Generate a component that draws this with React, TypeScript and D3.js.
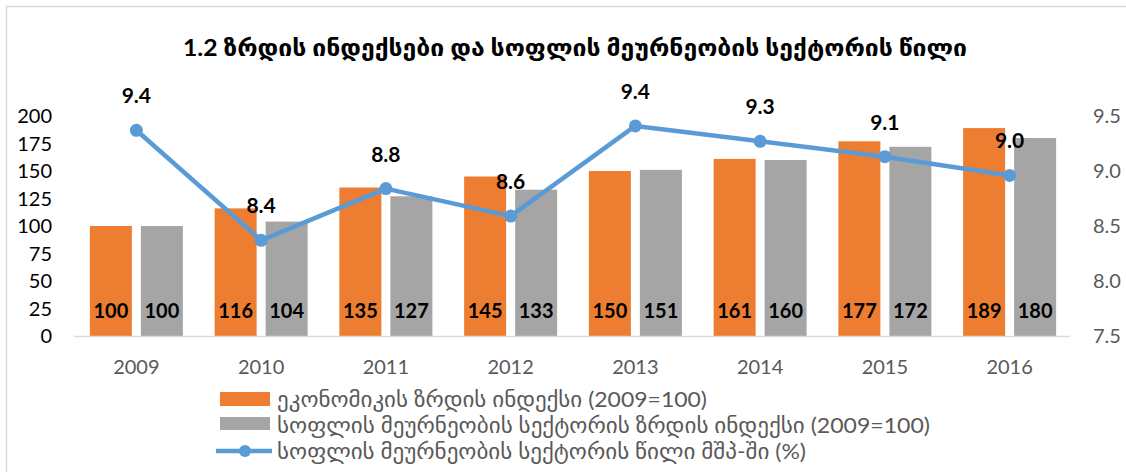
import React from "react";
import * as d3 from "d3";

const years = ["2009", "2010", "2011", "2012", "2013", "2014", "2015", "2016"];
const econIndex = [100, 116, 135, 145, 150, 161, 177, 189];
const agriIndex = [100, 104, 127, 133, 151, 160, 172, 180];
const agriShare = [9.37, 8.37, 8.84, 8.59, 9.41, 9.27, 9.13, 8.96];
const leftTicks = [0, 25, 50, 75, 100, 125, 150, 175, 200];
const rightTicks = [7.5, 8.0, 8.5, 9.0, 9.5];

const title = "1.2 ზრდის ინდექსები და სოფლის მეურნეობის სექტორის წილი";
const legendLabels = [
  "ეკონომიკის ზრდის ინდექსი (2009=100)",
  "სოფლის მეურნეობის სექტორის ზრდის ინდექსი (2009=100)",
  "სოფლის მეურნეობის სექტორის წილი მშპ-ში (%)",
];
const legendWidths = [430, 653, 529];

const W = 1126;
const H = 472;
const ORANGE = "#ED7D31";
const GREY = "#A5A5A5";
const BLUE = "#5B9BD5";
const TXT = "#595959";
const FONT = "Lato, 'DejaVu Sans', sans-serif";

export default function App() {
  const x = d3.scaleBand<string>().domain(years).range([74, 1072]).padding(0);
  const yL = d3.scaleLinear().domain([0, 200]).range([336, 116]);
  const yR = d3.scaleLinear().domain([7.5, 9.5]).range([336, 116]);
  const barW = 42;
  const gap = 9;
  const cx = (y: string) => (x(y) as number) + x.bandwidth() / 2;
  const line = d3
    .line<number>()
    .x((_, i) => cx(years[i]))
    .y((d) => yR(d));

  return (
    <svg
      width={W}
      height={H}
      style={{ position: "absolute", left: 0, top: 0, background: "#fff" }}
      fontFamily={FONT}
    >
      <rect x={6.5} y={6.5} width={W + 10} height={H + 10} fill="#fff" stroke="#D9D9D9" strokeWidth={1.5} />
      <text
        x={183}
        y={56}
        fontSize={23}
        fontWeight="bold"
        fill="#000"
        textLength={784}
        lengthAdjust="spacingAndGlyphs"
      >
        {title}
      </text>

      {leftTicks.map((t) => (
        <text key={"l" + t} x={52} y={yL(t)} dy="0.35em" textAnchor="end" fontSize={20} fill="#000">
          {t}
        </text>
      ))}
      {rightTicks.map((t) => (
        <text key={"r" + t} x={1093} y={yR(t)} dy="0.35em" textAnchor="start" fontSize={20} fill={TXT}>
          {t.toFixed(1)}
        </text>
      ))}

      {years.map((yr, i) => {
        const c = cx(yr);
        const ox = c - gap / 2 - barW;
        const gx = c + gap / 2;
        return (
          <g key={yr}>
            <rect x={ox} y={yL(econIndex[i])} width={barW} height={yL(0) - yL(econIndex[i])} fill={ORANGE} />
            <rect x={gx} y={yL(agriIndex[i])} width={barW} height={yL(0) - yL(agriIndex[i])} fill={GREY} />
            <text x={ox + barW / 2} y={318} textAnchor="middle" fontSize={20} fontWeight="bold" fill="#000">
              {econIndex[i]}
            </text>
            <text x={gx + barW / 2} y={318} textAnchor="middle" fontSize={20} fontWeight="bold" fill="#000">
              {agriIndex[i]}
            </text>
            <text x={c} y={367} dy="0.35em" textAnchor="middle" fontSize={20} fill={TXT}>
              {yr}
            </text>
          </g>
        );
      })}

      <line x1={74} x2={1070} y1={336.5} y2={336.5} stroke="#D9D9D9" strokeWidth={1.5} />

      <path d={line(agriShare) || ""} fill="none" stroke={BLUE} strokeWidth={4.5} strokeLinejoin="round" />
      {agriShare.map((v, i) => (
        <g key={"p" + i}>
          <circle cx={cx(years[i])} cy={yR(v)} r={6.5} fill={BLUE} />
          <text x={cx(years[i])} y={yR(v) - 27} textAnchor="middle" fontSize={21} fontWeight="bold" fill="#000">
            {v.toFixed(1)}
          </text>
        </g>
      ))}

      <rect x={220} y={392} width={50} height={14} fill={ORANGE} />
      <rect x={220} y={417} width={50} height={13} fill={GREY} />
      <line x1={216} x2={272} y1={451} y2={451} stroke={BLUE} strokeWidth={4.5} />
      <circle cx={245} cy={451} r={6} fill={BLUE} />
      {legendLabels.map((l, i) => (
        <text
          key={"lg" + i}
          x={277}
          y={400 + i * 26}
          dy="0.35em"
          fontSize={21}
          fill={TXT}
          textLength={legendWidths[i]}
          lengthAdjust="spacingAndGlyphs"
        >
          {l}
        </text>
      ))}
    </svg>
  );
}
